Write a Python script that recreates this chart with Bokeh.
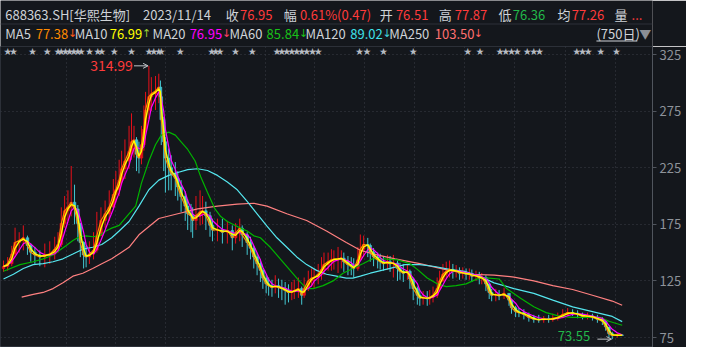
import numpy as np
import pandas as pd
from bokeh.plotting import figure
from bokeh.layouts import column
from bokeh.models import Range1d, FixedTicker, Grid, Label, Arrow, OpenHead
from bokeh.core.properties import value
from bokeh.embed import file_html
from bokeh.resources import INLINE

# ---------------- data ----------------
days = [0, 5, 10, 14, 19, 24, 29, 33, 38, 44,
        50, 56, 62, 66, 70, 74, 78, 82, 86, 90,
        93, 97, 100, 104, 109, 113, 118, 123, 128, 133,
        136, 140, 143, 147, 152, 155, 158, 161, 164, 167,
        170, 172, 176, 179, 184, 188, 190, 191, 194, 196,
        200, 203, 208, 211, 215, 220, 223, 227, 229, 233,
        238, 241, 245, 250, 253, 259, 265, 271, 277, 281,
        286, 289, 295, 299, 303, 307, 311, 314, 318, 321,
        325, 329, 333, 337, 341, 345, 349, 352, 357, 361,
        364, 369, 373, 376, 381, 385, 388, 393, 397, 400,
        405, 409, 412, 417, 421, 424, 429, 432, 436, 441,
        444, 448, 453, 456, 460, 465, 468, 472, 477, 480,
        484, 489, 492, 496, 501, 504, 508, 513, 516, 520,
        525, 528, 532, 536, 540, 544, 548, 552, 556, 560,
        564, 567, 572, 576, 579, 584, 588, 591, 596, 600,
        606, 612, 615, 620, 624, 630, 636, 642, 648, 654,
        660, 665, 671, 677, 683, 689, 695, 701, 707, 713,
        719, 725, 729, 733, 737, 743, 749]
close = [137.7, 140.2, 148.7, 158.9, 160.6, 163.1, 156.3, 150.4, 147.9, 146.2,
         147.9, 148.7, 153.0, 157.2, 175.8, 186.9, 190.2, 194.5, 188.6, 175.8,
         158.9, 147.9, 146.2, 148.7, 152.1, 164.8, 178.4, 184.3, 190.2, 201.3,
         205.5, 214.0, 224.1, 230.9, 239.4, 247.9, 249.6, 236.9, 233.5, 245.3,
         258.9, 275.8, 287.7, 290.3, 292.8, 296.2, 287.7, 267.4, 247.9, 233.5,
         225.0, 219.9, 215.7, 208.0, 199.6, 191.1, 184.3, 182.6, 178.4, 182.6,
         186.0, 186.9, 182.6, 174.1, 169.9, 170.2, 168.0, 169.5, 163.1, 167.4,
         171.6, 165.7, 158.9, 153.8, 146.2, 140.2, 134.3, 127.5, 122.4, 120.8,
         119.1, 120.8, 119.1, 118.2, 116.5, 114.8, 115.4, 116.5, 118.2, 112.3,
         118.2, 125.0, 127.5, 128.1, 130.9, 135.2, 139.4, 142.0, 143.6, 144.2,
         144.5, 145.1, 142.0, 139.4, 137.7, 136.0, 143.6, 153.0, 157.2, 156.3,
         150.4, 146.2, 143.6, 142.0, 140.2, 142.0, 140.2, 140.8, 136.0, 133.5,
         131.8, 133.5, 126.7, 118.2, 112.3, 109.7, 110.4, 109.2, 110.6, 112.3,
         118.2, 125.0, 130.9, 133.5, 135.2, 133.5, 134.1, 131.8, 132.4, 130.9,
         131.4, 129.2, 129.8, 127.5, 128.0, 122.4, 114.8, 112.3, 113.0, 111.8,
         114.0, 108.0, 101.3, 97.9, 97.0, 95.3, 92.8, 91.1, 90.5, 91.6,
         90.8, 91.9, 92.8, 95.3, 97.0, 96.5, 95.3, 93.6, 94.1, 92.8,
         91.1, 89.4, 84.3, 78.4, 76.7, 77.2, 76.95]
high = [143, 146, 156, 172, 168, 174, 165, 158, 155, 152,
        158, 160, 164, 168, 190, 200, 205, 226.5, 210, 192,
        176, 160, 156, 160, 168, 186, 190, 196, 205, 215,
        222, 232, 240, 250, 262, 273, 262, 252, 248, 262,
        280, 292, 314.99, 305, 306, 308, 302, 290, 270, 252,
        242, 236, 230, 222, 214, 204, 197, 193, 190, 200,
        205, 200, 195, 186, 180, 180, 180, 178, 174, 176,
        180, 174, 168, 164, 156, 150, 144, 136, 130, 128,
        126, 130, 127, 126, 124, 122, 124, 126, 128, 120,
        128, 134, 136, 136, 140, 146, 150, 150, 153, 152,
        155, 152, 150, 147, 146, 145, 155, 166, 165, 163,
        158, 154, 150, 149, 147, 148, 147, 148, 143, 141,
        140, 140, 135, 128, 120, 117, 116, 116, 117, 120,
        128, 134, 140, 142, 143, 140, 139, 137, 137, 136,
        136, 135, 134, 133, 132, 130, 122, 118, 118, 117,
        119, 114, 108, 103, 101, 100, 97, 95, 95, 94,
        95, 96, 97, 100, 101, 100, 99, 97, 97, 96,
        95, 93, 90, 84, 80, 79, 77.87]
low = [133, 134, 138, 146, 150, 152, 148, 142, 140, 138,
       137, 140, 144, 150, 155, 172, 178, 182, 175, 160,
       146, 136, 137, 140, 144, 150, 166, 172, 178, 188,
       194, 200, 210, 215, 224, 232, 234, 222, 220, 228,
       240, 255, 268, 275, 276, 282, 272, 245, 222, 203,
       205, 205, 200, 196, 186, 178, 170, 168, 163, 170,
       174, 175, 170, 164, 160, 160, 158, 158, 152, 158,
       160, 155, 148, 144, 136, 130, 124, 118, 114, 112,
       111, 114, 110, 108, 104, 106, 108, 109, 110, 104,
       110, 116, 120, 118, 122, 126, 130, 134, 134, 135,
       132, 136, 133, 130, 130, 128, 134, 143, 146, 146,
       142, 138, 136, 135, 134, 135, 133, 128, 125, 126,
       124, 126, 118, 108, 104, 103, 104, 103, 104, 106,
       110, 117, 124, 127, 128, 127, 128, 126, 127, 126,
       126, 124, 125, 122, 122, 116, 109, 107, 107, 108,
       109, 103, 96, 93, 93, 91, 89, 88, 88, 88,
       88, 89, 90, 92, 94, 94, 92, 91, 91, 90,
       88, 86, 81, 75, 73.55, 75, 76.36]
first_open = 136.0

ma60_days = [0, 20, 36, 48, 60, 68, 76, 84, 92, 100,
             108, 116, 124, 131, 140, 149, 160, 167, 176, 184,
             191, 200, 208, 215, 223, 232, 239, 247, 256, 263,
             271, 280, 287, 295, 303, 311, 323, 335, 346, 358,
             367, 375, 387, 399, 411, 423, 435, 447, 460, 477,
             492, 501, 513, 525, 536, 548, 560, 568, 576, 588,
             600, 609, 626, 642, 657, 674, 689, 705, 722, 733, 749]
ma60 = [133.5, 139.4, 141.9, 144.5, 147.9, 152.1, 156.3, 160.6, 164.0, 164.8,
        164.0, 164.8, 169.1, 171.6, 174.1, 181.8, 191.1, 211.4, 230.9, 245.3,
        253.8, 256.4, 253.8, 247.9, 241.1, 230.9, 216.5, 203.0, 188.6, 181.8,
        177.5, 174.1, 171.6, 169.1, 164.8, 163.1, 154.7, 144.5, 135.2, 125.0,
        118.2, 118.2, 120.8, 125.0, 131.8, 136.0, 140.2, 144.5, 144.5, 143.6,
        140.2, 135.2, 127.5, 122.4, 119.9, 120.8, 122.4, 125.0, 127.5, 127.5,
        126.7, 118.2, 109.7, 102.1, 97.0, 93.6, 92.8, 92.8, 92.8, 89.4, 85.84]

ma120_days = [0, 12, 24, 36, 48, 60, 72, 84, 96, 108,
              119, 131, 140, 152, 164, 176, 188, 200, 211, 223,
              235, 247, 259, 271, 283, 295, 307, 319, 331, 343,
              355, 367, 379, 391, 403, 415, 423, 432, 444, 468,
              486, 504, 522, 540, 558, 576, 594, 618, 642, 665,
              689, 713, 737, 749]
ma120 = [126.7, 130.9, 136.0, 139.4, 140.2, 141.9, 144.5, 148.7, 153.0, 154.7,
         157.2, 163.1, 169.1, 177.5, 191.1, 205.5, 214.0, 218.2, 220.8, 223.3,
         224.1, 222.5, 218.2, 212.3, 205.5, 195.3, 184.3, 173.3, 163.1, 154.7,
         146.2, 139.4, 134.3, 130.9, 129.2, 127.5, 127.5, 129.2, 131.8, 136.0,
         139.4, 139.4, 137.7, 135.2, 133.5, 129.2, 123.3, 118.2, 114.0, 108.0,
         102.1, 97.9, 93.6, 89.02]

ma250_days = [22, 36, 48, 60, 72, 84, 96, 108, 119, 131,
              143, 152, 164, 188, 211, 235, 259, 283, 303, 319,
              343, 367, 391, 415, 432, 448, 474, 504, 534, 564,
              594, 618, 642, 665, 689, 713, 737, 749]
ma250 = [110.6, 113.1, 114.8, 118.2, 123.3, 129.2, 131.8, 136.0, 140.2, 144.5,
         150.4, 154.7, 165.7, 180.1, 184.3, 188.6, 191.1, 192.8, 193.6, 191.1,
         184.3, 178.4, 169.1, 158.9, 152.1, 148.7, 144.5, 140.2, 135.2, 130.9,
         130.1, 128.4, 125.0, 120.8, 117.4, 112.3, 107.2, 103.5]

event_days = [5, 12, 35, 53, 66, 70, 75, 80, 85, 90, 94, 104, 114, 119, 134, 155,
              176, 182, 188, 191, 214, 252, 257, 262, 281, 301, 331, 337, 343, 349,
              355, 361, 367, 374, 381, 431, 440, 460, 496, 562, 577, 601, 608, 615,
              622, 634, 642, 649, 694, 701, 708, 723, 742]

y_ticks = [75, 125, 175, 225, 275, 325]
grid_days = [76, 136, 196, 256, 317, 377, 437, 497, 558, 619, 680, 741]

header_code = "688363.SH[华熙生物]"
header_date = "2023/11/14"
quote_names = ["收", "幅", "开", "高", "低", "均", "量"]
quote_values = ["76.95", "0.61%(0.47)", "76.51", "77.87", "76.36", "77.26", "..."]
ma_names = ["MA5", "MA10", "MA20", "MA60", "MA120", "MA250"]
ma_values = ["77.38", "76.99", "76.95", "85.84", "89.02", "103.50"]
ma_trend = ["↓", "↑", "↓", "↓", "↓", "↓"]
period_text = "(750日)"

# ---------------- styles ----------------
BG = "#14171c"
GRID = "#3a3f47"
TXT = "#cfd3d8"
RED = "#ff3b3b"
GRN = "#22b84a"
UP = "#e8101a"
DOWN = "#44c8d2"
MA_COLORS = ["#ff8a00", "#ffff00", "#ff00ff", "#00b400", "#55e6ee", "#ff8080"]
FONT = "Noto Sans CJK SC"
ARROW_FONT = "DejaVu Sans"
W = 686
HEAD_H = 46
CHART_H = 301

# ---------------- header ----------------
hd = figure(width=W, height=HEAD_H, output_backend="svg", toolbar_location=None,
            x_range=Range1d(0, W), y_range=Range1d(HEAD_H, 0),
            x_axis_location=None, y_axis_location=None,
            min_border_left=0, min_border_right=0, min_border_top=0, min_border_bottom=0,
            background_fill_color=BG, border_fill_color=BG, outline_line_color=None)
hd.grid.visible = False

row1, row2 = 14, 33
hx, hy, ht, hc = [], [], [], []

def put(x, y, t, c):
    hx.append(x); hy.append(y); ht.append(t); hc.append(c)

put(5, row1, header_code, TXT)
put(150, row1, header_date, TXT)
qn_x = [237, 298, 399, 461, 524, 586, 646]
qv_x = [252, 315, 416, 478, 539, 601, 664]
qv_c = [RED, RED, RED, RED, GRN, RED, RED]
for n, v, xn, xv, c in zip(quote_names, quote_values, qn_x, qv_x, qv_c):
    put(xn, row1, n, TXT)
    put(xv, row1, v, c)
mn_x = [5, 78, 160, 241, 321, 409]
mv_x = [37, 115, 199, 280, 368, 457]
ma_x = [71, 149, 233, 314, 402, 498]
mv_c = ["#ff8a00", "#ffff00", "#ff00ff", "#19c019", "#3fe0e8", "#ff7070"]
ar_c = ["#ff5a1a", "#9acd32", "#ff4060", "#19c019", "#3fd0d8", "#ff6060"]
for n, v, xn, xv, c in zip(ma_names, ma_values, mn_x, mv_x, mv_c):
    put(xn, row2, n, TXT)
    put(xv, row2, v, c)
put(627, row2, period_text, TXT)

hd.text(x=hx, y=hy, text=ht, text_color=hc, text_font=value(FONT),
        text_font_size=value("13px"), text_align="left", text_baseline="middle")
hd.text(x=ma_x, y=[row2] * len(ma_x), text=ma_trend, text_color=ar_c,
        text_font=value(ARROW_FONT), text_font_size=value("11px"),
        text_align="left", text_baseline="middle")
hd.text(x=[672], y=[row2], text=["▼"], text_color="#8a8f96", text_font=value(FONT),
        text_font_size=value("12px"), text_align="left", text_baseline="middle")
hd.segment(x0=[0], y0=[23.5], x1=[W], y1=[23.5], line_color="#2c3038", line_width=1)
hd.segment(x0=[627], y0=[40.5], x1=[670], y1=[40.5], line_color=TXT, line_width=1)

# ---------------- chart ----------------
df = pd.DataFrame({"day": days, "close": close, "high": high, "low": low})
df["open"] = df["close"].shift(1).fillna(first_open)
df["top"] = df[["open", "close"]].max(axis=1)
df["bottom"] = df[["open", "close"]].min(axis=1)
df["hi"] = np.maximum(df["high"], df["top"])
df["lo"] = np.minimum(df["low"], df["bottom"])
df["color"] = np.where(df["close"] >= df["open"], UP, DOWN)
df["ma5"] = df["close"]
df["ma10"] = df["close"].rolling(2, min_periods=1).mean()
df["ma20"] = df["close"].rolling(4, min_periods=1).mean()

p = figure(width=W, height=CHART_H, output_backend="svg", toolbar_location=None,
           x_range=Range1d(-3.63, 785.7), y_range=Range1d(66.17, 332.07),
           x_axis_location=None, y_axis_location="right",
           min_border_left=0, min_border_right=34, min_border_top=0, min_border_bottom=0,
           background_fill_color=BG, border_fill_color=BG,
           outline_line_color="#2c3038")
p.grid.visible = False
p.add_layout(Grid(dimension=0, ticker=FixedTicker(ticks=grid_days),
                  grid_line_color=GRID, grid_line_dash="1 3"))
p.add_layout(Grid(dimension=1, ticker=FixedTicker(ticks=y_ticks),
                  grid_line_color=GRID, grid_line_dash="1 3"))

ax = p.yaxis[0]
ax.ticker = FixedTicker(ticks=y_ticks)
ax.axis_line_color = "#50555d"
ax.major_tick_line_color = "#50555d"
ax.major_tick_out = 4
ax.major_tick_in = 0
ax.minor_tick_out = 0
ax.minor_tick_in = 0
ax.major_label_standoff = 3
ax.major_label_text_color = "#8e939a"
ax.major_label_text_font = FONT
ax.major_label_text_font_size = "13px"

# candles
p.segment(x0="day", y0="lo", x1="day", y1="hi", color="color", line_width=1, source=df)
p.vbar(x="day", width=3.2, top="top", bottom="bottom", fill_color="color",
       line_color="color", line_width=0.6, source=df)

# moving averages
p.line(ma250_days, ma250, color=MA_COLORS[5], line_width=1.2)
p.line(ma120_days, ma120, color=MA_COLORS[4], line_width=1.2)
p.line(ma60_days, ma60, color=MA_COLORS[3], line_width=1.2)
p.line(df["day"], df["ma20"], color=MA_COLORS[2], line_width=1.2)
p.line(df["day"], df["ma5"], color=MA_COLORS[0], line_width=1.2)
p.line(df["day"], df["ma10"], color=MA_COLORS[1], line_width=1.4)

# event stars
star_y = p.y_range.end - 3.5
p.text(x=event_days, y=[star_y] * len(event_days), text=["★"] * len(event_days),
       text_color="#b8bcc2", text_font=value(FONT), text_font_size=value("8px"),
       text_align="center", text_baseline="middle")

# max / min markers
imax = int(np.argmax(df["hi"]))
imin = int(np.argmin(df["lo"]))
dmax, vmax = df["day"][imax], df["hi"][imax]
dmin, vmin = df["day"][imin], df["lo"][imin]
p.add_layout(Label(x=dmax, y=vmax, x_offset=-16, text=f"{vmax:.2f}", text_align="right",
                   text_baseline="middle", text_color=RED, text_font=FONT, text_font_size="14px"))
p.add_layout(Arrow(x_start=dmax - 18, y_start=vmax, x_end=dmax - 1, y_end=vmax,
                   line_color="#c0c4c8", line_width=1,
                   end=OpenHead(size=5, line_color="#c0c4c8", line_width=1)))
p.add_layout(Label(x=dmin, y=vmin, x_offset=-22, y_offset=3, text=f"{vmin:.2f}",
                   text_align="right", text_baseline="middle", text_color=GRN,
                   text_font=FONT, text_font_size="13px"))
p.add_layout(Arrow(x_start=dmin - 18, y_start=vmin, x_end=dmin - 1, y_end=vmin,
                   line_color="#c0c4c8", line_width=1,
                   end=OpenHead(size=5, line_color="#c0c4c8", line_width=1)))

layout = column(hd, p, spacing=0)
open("out.html", "w").write(file_html(layout, INLINE))
